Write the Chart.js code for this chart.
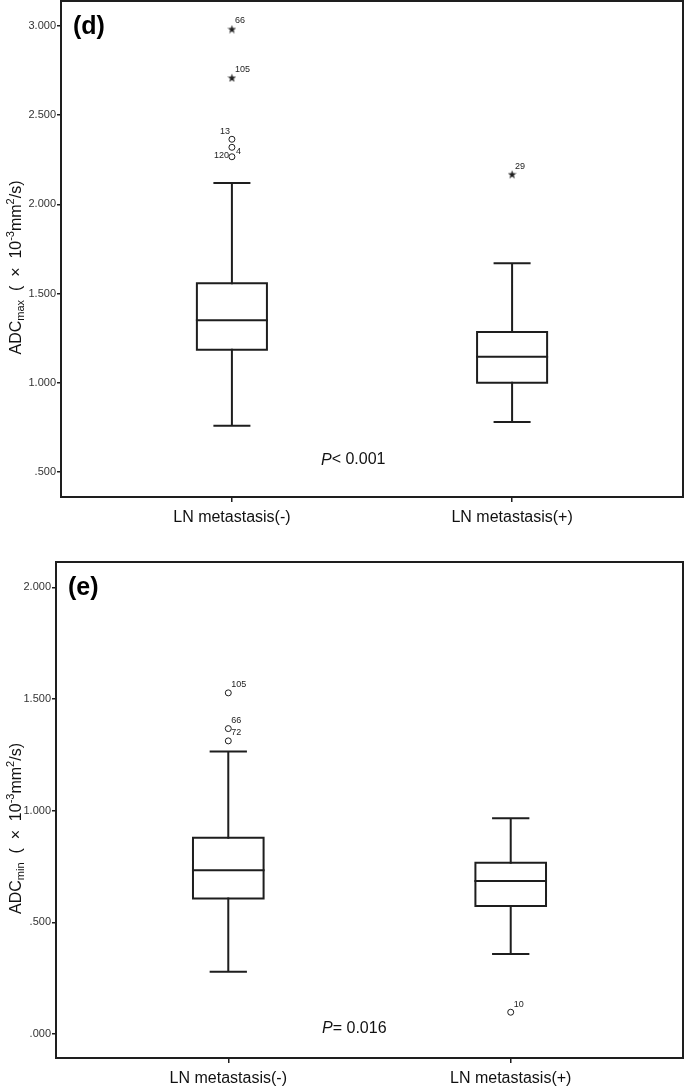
<!DOCTYPE html>
<html>
<head>
<meta charset="utf-8">
<script src="https://cdn.jsdelivr.net/npm/chart.js@4.4.1/dist/chart.umd.min.js"></script>
<style>
  body { margin: 0; background: #fff; }
  #wrap { position: relative; width: 685px; height: 1090px; }
  canvas { position: absolute; left: 0; }
</style>
</head>
<body>
<div id="wrap">
  <canvas id="max-chart" width="685" height="545" style="top:0"></canvas>
  <canvas id="min-chart" width="685" height="545" style="top:545px"></canvas>
</div>
<script>
const groupLabels = ["LN metastasis(-)", "LN metastasis(+)"];

// (d) ADCmax
const maxLow = [0.76, 0.78];
const maxQ1 = [1.186, 1.0];
const maxMedian = [1.35, 1.146];
const maxQ3 = [1.558, 1.285];
const maxHigh = [2.12, 1.67];
const maxOutGroup = [1, 1, 1, 1, 1, 2];
const maxOutValue = [2.983, 2.71, 2.365, 2.32, 2.267, 2.169];
const maxOutId = ["66", "105", "13", "4", "120", "29"];
const maxOutExtreme = [true, true, false, false, false, true];
const maxTicks = [0.5, 1.0, 1.5, 2.0, 2.5, 3.0];

// (e) ADCmin
const minLow = [0.279, 0.359];
const minQ1 = [0.607, 0.574];
const minMedian = [0.734, 0.686];
const minQ3 = [0.879, 0.767];
const minHigh = [1.265, 0.967];
const minOutGroup = [1, 1, 1, 2];
const minOutValue = [1.528, 1.368, 1.313, 0.098];
const minOutId = ["105", "66", "72", "10"];
const minOutExtreme = [false, false, false, false];
const minTicks = [0.0, 0.5, 1.0, 1.5, 2.0];

const INK = "#1e1e1e";
const BOX_HALF = 0.125;
const CAP_HALF = 0.0625;

Chart.defaults.font.family = '"Liberation Sans", Arial, sans-serif';
Chart.defaults.color = "#333";

const makeStar = (size) => {
  const c = document.createElement("canvas");
  c.width = size;
  c.height = size;
  const g = c.getContext("2d");
  g.fillStyle = INK;
  g.beginPath();
  for (let k = 0; k < 10; k++) {
    const r = k % 2 ? size * 0.2 : size * 0.5;
    const a = -Math.PI / 2 + (k * Math.PI) / 5;
    const px = size / 2 + r * Math.cos(a);
    const py = size / 2 + 0.5 + r * Math.sin(a);
    if (k == 0) g.moveTo(px, py);
    else g.lineTo(px, py);
  }
  g.closePath();
  g.fill();
  return c;
};
const starImg = makeStar(9);

const gap = { x: null, y: null };

const boxPoints = (q1, q3) => {
  const pts = [];
  q1.forEach((lo, i) => {
    const g = i + 1;
    const hi = q3[i];
    pts.push({ x: g - BOX_HALF, y: lo }, { x: g + BOX_HALF, y: lo },
      { x: g + BOX_HALF, y: hi }, { x: g - BOX_HALF, y: hi },
      { x: g - BOX_HALF, y: lo }, gap);
  });
  return pts;
};

const medianPoints = (med) => {
  const pts = [];
  med.forEach((m, i) => {
    pts.push({ x: i + 1 - BOX_HALF, y: m }, { x: i + 1 + BOX_HALF, y: m }, gap);
  });
  return pts;
};

const whiskerPoints = (low, q1, q3, high) => {
  const pts = [];
  low.forEach((lo, i) => {
    const g = i + 1;
    pts.push({ x: g, y: q3[i] }, { x: g, y: high[i] }, gap);
    pts.push({ x: g, y: q1[i] }, { x: g, y: lo }, gap);
    pts.push({ x: g - CAP_HALF, y: high[i] }, { x: g + CAP_HALF, y: high[i] }, gap);
    pts.push({ x: g - CAP_HALF, y: lo }, { x: g + CAP_HALF, y: lo }, gap);
  });
  return pts;
};

const outlierPoints = (grp, val, ext, wantExtreme) => {
  const pts = [];
  val.forEach((v, i) => {
    if (ext[i] == wantExtreme) pts.push({ x: grp[i], y: v, id: i });
  });
  return pts;
};

const lineSet = (data) => ({
  type: "line",
  data: data,
  borderColor: INK,
  borderWidth: 2,
  borderCapStyle: "square",
  borderJoinStyle: "miter",
  pointRadius: 0,
  fill: false,
  spanGaps: false,
});

// panel decorations: frame, tag, P value, axis title, outlier numbers
const panelDeco = {
  id: "panelDeco",
  afterDatasetsDraw(chart, args, opts) {
    const { ctx, chartArea: a, scales } = chart;
    ctx.save();
    ctx.strokeStyle = INK;
    ctx.lineWidth = 2;
    ctx.strokeRect(a.left, a.top, a.right - a.left, a.bottom - a.top);

    ctx.fillStyle = "#000";
    ctx.font = 'bold 25px "Liberation Sans", Arial, sans-serif';
    ctx.textBaseline = "middle";
    ctx.textAlign = "left";
    ctx.fillText(opts.tag, a.left + 12, a.top + 26);

    // P value
    const px = scales.x.getPixelForValue(opts.pAt[0]);
    const py = scales.y.getPixelForValue(opts.pAt[1]);
    ctx.font = 'italic 16px "Liberation Sans", Arial, sans-serif';
    ctx.fillStyle = "#111";
    ctx.fillText("P", px, py);
    const pw = ctx.measureText("P").width;
    ctx.font = '16px "Liberation Sans", Arial, sans-serif';
    ctx.fillText(opts.pText, px + pw, py);

    // outlier numbers
    ctx.font = '9px "Liberation Sans", Arial, sans-serif';
    ctx.fillStyle = "#222";
    chart.data.datasets.forEach((ds, di) => {
      if (!ds.outliers) return;
      chart.getDatasetMeta(di).data.forEach((el, j) => {
        const id = ds.data[j].id;
        const side = opts.sides[id];
        let dx = 3, dy = -8;
        ctx.textAlign = "left";
        if (side == "ul") { dx = -2; dy = -8; ctx.textAlign = "right"; }
        if (side == "r") { dx = 4; dy = 4; }
        if (side == "l") { dx = -3; dy = -1; ctx.textAlign = "right"; }
        ctx.fillText(opts.ids[id], el.x + dx, el.y + dy);
      });
    });

    // y axis title with sub/superscripts
    const segs = opts.title;
    let total = 0;
    segs.forEach((s) => {
      ctx.font = s[1] + 'px "Liberation Sans", Arial, sans-serif';
      total += ctx.measureText(s[0]).width;
    });
    ctx.translate(15, (a.top + a.bottom) / 2 + 18.5);
    ctx.rotate(-Math.PI / 2);
    ctx.textAlign = "left";
    ctx.textBaseline = "alphabetic";
    ctx.fillStyle = "#111";
    let cx = -total / 2;
    segs.forEach((s) => {
      ctx.font = s[1] + 'px "Liberation Sans", Arial, sans-serif';
      ctx.fillText(s[0], cx, 6 + s[2]);
      cx += ctx.measureText(s[0]).width;
    });
    ctx.restore();
  },
};

const makePanel = (canvasId, d) => {
  return new Chart(document.getElementById(canvasId), {
    type: "line",
    data: {
      datasets: [
        lineSet(whiskerPoints(d.low, d.q1, d.q3, d.high)),
        lineSet(boxPoints(d.q1, d.q3)),
        lineSet(medianPoints(d.median)),
        {
          type: "line",
          showLine: false,
          outliers: true,
          data: outlierPoints(d.grp, d.val, d.ext, false),
          pointStyle: "circle",
          pointRadius: 3,
          pointBorderWidth: 1,
          pointBorderColor: INK,
          pointBackgroundColor: "#fff",
        },
        {
          type: "line",
          showLine: false,
          outliers: true,
          data: outlierPoints(d.grp, d.val, d.ext, true),
          pointStyle: starImg,
          pointRadius: 4,
        },
      ],
    },
    options: {
      responsive: false,
      animation: false,
      events: [],
      layout: {
        autoPadding: false,
        padding: { top: d.padTop, right: 2, left: 0, bottom: 0 },
      },
      plugins: {
        legend: { display: false },
        tooltip: { enabled: false },
        panelDeco: {
          tag: d.tag,
          pText: d.pText,
          pAt: d.pAt,
          title: d.title,
          ids: d.ids,
          sides: d.sides,
        },
      },
      scales: {
        x: {
          type: "linear",
          min: 0.39,
          max: 2.61,
          afterBuildTicks: (scale) => {
            scale.ticks = [{ value: 1 }, { value: 2 }];
          },
          afterFit: (scale) => {
            scale.height = d.xHeight;
            scale.paddingLeft = 0;
            scale.paddingRight = 0;
          },
          border: { display: false },
          grid: {
            drawOnChartArea: false,
            tickLength: 5,
            color: INK,
            lineWidth: 1.5,
          },
          ticks: {
            padding: 6,
            color: "#111",
            font: { size: 16 },
            maxRotation: 0,
            callback: (value) => groupLabels[Math.round(value) - 1],
          },
        },
        y: {
          min: d.yMin,
          max: d.yMax,
          afterBuildTicks: (scale) => {
            scale.ticks = d.ticks.map((v) => ({ value: v }));
          },
          afterFit: (scale) => {
            scale.width = d.yWidth;
            scale.paddingTop = 0;
            scale.paddingBottom = 0;
          },
          border: { display: false },
          grid: {
            drawOnChartArea: false,
            tickLength: 4,
            color: INK,
            lineWidth: 1.5,
          },
          ticks: {
            padding: 1,
            color: "#333",
            font: { size: 11 },
            callback: (value) => value.toFixed(3).replace(/^0/, ""),
          },
        },
      },
    },
    plugins: [panelDeco],
  });
};

makePanel("max-chart", {
  low: maxLow, q1: maxQ1, median: maxMedian, q3: maxQ3, high: maxHigh,
  grp: maxOutGroup, val: maxOutValue, ext: maxOutExtreme, ids: maxOutId,
  sides: ["ur", "ur", "ul", "r", "l", "ur"],
  ticks: maxTicks, yMin: 0.36, yMax: 3.14,
  tag: "(d)", pText: "< 0.001", pAt: [1.318, 0.567],
  title: [["ADC", 16, 0], ["max", 11, 3], ["  (  \u00d7  10", 16, 0], ["-3", 11, -7],
    ["mm", 16, 0], ["2", 11, -7], ["/s)", 16, 0]],
  padTop: 1, xHeight: 48, yWidth: 61,
});

makePanel("min-chart", {
  low: minLow, q1: minQ1, median: minMedian, q3: minQ3, high: minHigh,
  grp: minOutGroup, val: minOutValue, ext: minOutExtreme, ids: minOutId,
  sides: ["ur", "ur", "ur", "ur"],
  ticks: minTicks, yMin: -0.107, yMax: 2.114,
  tag: "(e)", pText: "= 0.016", pAt: [1.332, 0.024],
  title: [["ADC", 16, 0], ["min", 11, 3], ["  (  \u00d7  10", 16, 0], ["-3", 11, -7],
    ["mm", 16, 0], ["2", 11, -7], ["/s)", 16, 0]],
  padTop: 17, xHeight: 32, yWidth: 56,
});
</script>
</body>
</html>
